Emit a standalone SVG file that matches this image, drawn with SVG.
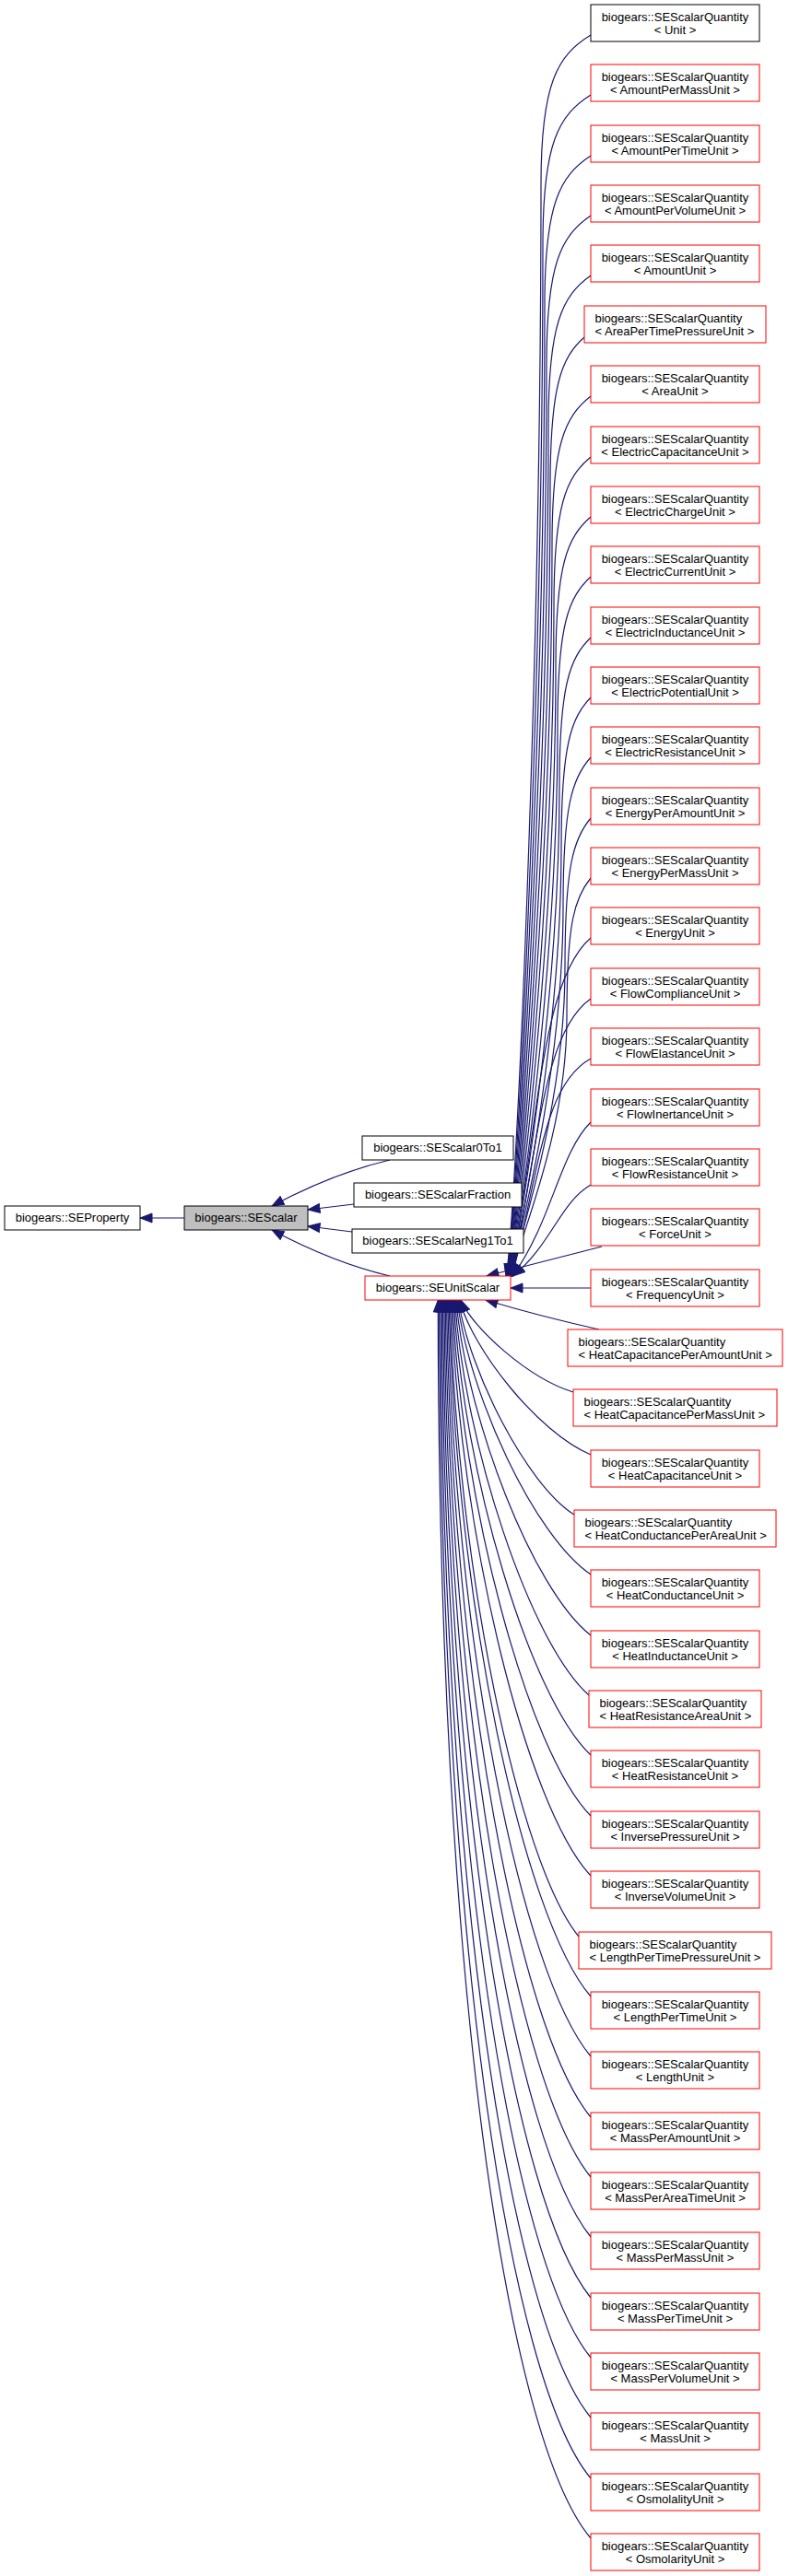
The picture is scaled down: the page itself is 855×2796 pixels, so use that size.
<svg xmlns="http://www.w3.org/2000/svg" width="855" height="2796" viewBox="0 0 855 2796">
<style>
rect{fill:#fff;stroke:#000;stroke-width:1}
.r rect{stroke:#f00}
.g rect{fill:#bfbfbf}
text{font-family:"Liberation Sans",Arial,sans-serif;font-size:13px;fill:#000}
.c{text-anchor:middle}
.e path{fill:none;stroke:#191970;stroke-width:1.2;marker-start:url(#a)}
</style>
<defs>
<marker id="a" markerUnits="userSpaceOnUse" markerWidth="16" markerHeight="12" refX="13.5" refY="6" orient="auto-start-reverse"><path d="M13.5,6 L0.5,1 L0.5,11 Z" fill="#191970" stroke="#191970" stroke-width="1"/></marker>
</defs>
<rect x="0" y="0" width="855" height="2796" style="fill:#fff;stroke:none"/>
<g class="e" id="edges">
<path d="M152,1322 L200,1322"/>
<path d="M295,1309 C340,1285 385,1268 423,1259"/>
<path d="M334,1313 L384,1307"/>
<path d="M334,1331 L382,1337"/>
<path d="M295,1335 C340,1359 385,1376 423,1385"/>
<path d="M549,1385 C559,1340 587,733 587,200 C587,90 605,60 641,38"/>
<path d="M549.4,1385 C559.4,1340 589,769 589,265 C589,155 606.2,125 641,103"/>
<path d="M549.8,1385 C559.8,1340 591,805 591,331 C591,221 607.5,191 641,169"/>
<path d="M550.2,1385 C560.2,1340 593,841 593,396 C593,286 608.8,256 641,234"/>
<path d="M550.6,1385 C560.6,1340 595,877 595,461 C595,351 610.2,321 641,299"/>
<path d="M551,1385 C561,1340 597,914 597,528 C597,418 609.2,388 634,366"/>
<path d="M551.4,1385 C561.4,1340 599,949 599,592 C599,482 612.9,452 641,430"/>
<path d="M551.8,1385 C561.8,1340 601,985 601,658 C601,548 614.2,518 641,496"/>
<path d="M552.2,1385 C562.2,1340 603,1021 603,723 C603,613 615.5,583 641,561"/>
<path d="M552.6,1385 C562.6,1340 605,1057 605,788 C605,678 616.9,648 641,626"/>
<path d="M553,1385 C563,1340 607,1093 607,854 C607,744 618.2,714 641,692"/>
<path d="M553.4,1385 C563.4,1340 609,1129 609,919 C609,809 619.6,779 641,757"/>
<path d="M553.8,1385 C563.8,1340 611,1164 611,984 C611,874 620.9,844 641,822"/>
<path d="M554.2,1385 C564.2,1340 613,1201 613,1050 C613,940 622.2,910 641,888"/>
<path d="M554.6,1385 C564.6,1340 615,1230 615,1104 C615,1001 623.6,974 641,953"/>
<path d="M555,1385 C585.1,1201.5 589.4,1062 641,1018"/>
<path d="M555.4,1385 C585.4,1234.5 589.6,1120.1 641,1084"/>
<path d="M555.8,1385 C585.6,1267 589.9,1177.3 641,1149"/>
<path d="M556.2,1385 C598.6,1326.6 607.1,1251.4 641,1218"/>
<path d="M556.6,1385 C598.8,1350.4 607.2,1305.8 641,1286"/>
<path d="M528,1385 L653,1353"/>
<path d="M554,1398 L641,1398"/>
<path d="M527,1411 C570,1424 610,1434 650,1443"/>
<path d="M500,1411 C512.2,1441 573.2,1496 622,1511"/>
<path d="M498.7,1411 C512.2,1463.6 583,1554.4 641,1579"/>
<path d="M497.4,1411 C508.6,1487 570.8,1610.8 623,1644"/>
<path d="M496.1,1411 C508.3,1512.2 579.6,1667.6 641,1709"/>
<path d="M494.8,1411 C506.3,1539.3 577.9,1725.8 641,1775"/>
<path d="M493.5,1411 C504.2,1567.9 575.1,1783.5 639,1840"/>
<path d="M492.2,1411 C502.4,1598.2 574.4,1841.8 641,1905"/>
<path d="M490.9,1411 C500.4,1630.6 572.7,1901.4 641,1971"/>
<path d="M489.6,1411 C498.4,1664.3 570.9,1960.7 641,2036"/>
<path d="M488.3,1411 C495.6,1700.1 562.2,2021.3 628,2102"/>
<path d="M487,1411 C494.3,1737.3 567.2,2081.4 641,2167"/>
<path d="M485.7,1411 C492.2,1776.1 565.4,2142.1 641,2232"/>
<path d="M484.4,1411 C490.2,1817.2 563.5,2204.2 641,2298"/>
<path d="M483.1,1411 C488.1,1859.5 561.6,2265.8 641,2363"/>
<path d="M481.8,1411 C486,1903.4 559.7,2327.9 641,2428"/>
<path d="M480.5,1411 C483.9,1949.7 557.8,2391.4 641,2494"/>
<path d="M479.2,1411 C481.8,1997 555.8,2454.4 641,2559"/>
<path d="M477.9,1411 C479.6,2046.2 553.9,2518 641,2624"/>
<path d="M476.6,1411 C477.5,2097.6 551.9,2582.9 641,2690"/>
<path d="M475.3,1411 C475.3,2150.2 549.9,2647.5 641,2755"/>
</g>
<g id="SEProperty"><rect x="5" y="1309" width="147" height="26"/><text class="c" x="78.5" y="1326">biogears::SEProperty</text></g>
<g id="SEScalar" class="g"><rect x="200" y="1309" width="134" height="26"/><text class="c" x="267" y="1326">biogears::SEScalar</text></g>
<g id="SEScalar0To1"><rect x="393" y="1233" width="164" height="26"/><text class="c" x="475" y="1250">biogears::SEScalar0To1</text></g>
<g id="SEScalarFraction"><rect x="384" y="1284" width="182" height="26"/><text class="c" x="475" y="1301">biogears::SEScalarFraction</text></g>
<g id="SEScalarNeg1To1"><rect x="382" y="1334" width="186" height="26"/><text class="c" x="475" y="1351">biogears::SEScalarNeg1To1</text></g>
<g id="SEUnitScalar" class="r"><rect x="396" y="1385" width="158" height="26"/><text class="c" x="475" y="1402">biogears::SEUnitScalar</text></g>
<g id="q0"><rect x="641" y="5" width="183" height="40"/><text class="c" x="732.5" y="22.5">biogears::SEScalarQuantity</text><text class="c" x="732.5" y="37">&lt; Unit &gt;</text></g>
<g id="q1" class="r"><rect x="641" y="70" width="183" height="40"/><text class="c" x="732.5" y="87.5">biogears::SEScalarQuantity</text><text class="c" x="732.5" y="102">&lt; AmountPerMassUnit &gt;</text></g>
<g id="q2" class="r"><rect x="641" y="136" width="183" height="40"/><text class="c" x="732.5" y="153.5">biogears::SEScalarQuantity</text><text class="c" x="732.5" y="168">&lt; AmountPerTimeUnit &gt;</text></g>
<g id="q3" class="r"><rect x="641" y="201" width="183" height="40"/><text class="c" x="732.5" y="218.5">biogears::SEScalarQuantity</text><text class="c" x="732.5" y="233">&lt; AmountPerVolumeUnit &gt;</text></g>
<g id="q4" class="r"><rect x="641" y="266" width="183" height="40"/><text class="c" x="732.5" y="283.5">biogears::SEScalarQuantity</text><text class="c" x="732.5" y="298">&lt; AmountUnit &gt;</text></g>
<g id="q5" class="r"><rect x="634" y="332" width="197" height="40"/><text x="645.5" y="349.5">biogears::SEScalarQuantity</text><text x="645.5" y="364">&lt; AreaPerTimePressureUnit &gt;</text></g>
<g id="q6" class="r"><rect x="641" y="397" width="183" height="40"/><text class="c" x="732.5" y="414.5">biogears::SEScalarQuantity</text><text class="c" x="732.5" y="429">&lt; AreaUnit &gt;</text></g>
<g id="q7" class="r"><rect x="641" y="463" width="183" height="40"/><text class="c" x="732.5" y="480.5">biogears::SEScalarQuantity</text><text class="c" x="732.5" y="495">&lt; ElectricCapacitanceUnit &gt;</text></g>
<g id="q8" class="r"><rect x="641" y="528" width="183" height="40"/><text class="c" x="732.5" y="545.5">biogears::SEScalarQuantity</text><text class="c" x="732.5" y="560">&lt; ElectricChargeUnit &gt;</text></g>
<g id="q9" class="r"><rect x="641" y="593" width="183" height="40"/><text class="c" x="732.5" y="610.5">biogears::SEScalarQuantity</text><text class="c" x="732.5" y="625">&lt; ElectricCurrentUnit &gt;</text></g>
<g id="q10" class="r"><rect x="641" y="659" width="183" height="40"/><text class="c" x="732.5" y="676.5">biogears::SEScalarQuantity</text><text class="c" x="732.5" y="691">&lt; ElectricInductanceUnit &gt;</text></g>
<g id="q11" class="r"><rect x="641" y="724" width="183" height="40"/><text class="c" x="732.5" y="741.5">biogears::SEScalarQuantity</text><text class="c" x="732.5" y="756">&lt; ElectricPotentialUnit &gt;</text></g>
<g id="q12" class="r"><rect x="641" y="789" width="183" height="40"/><text class="c" x="732.5" y="806.5">biogears::SEScalarQuantity</text><text class="c" x="732.5" y="821">&lt; ElectricResistanceUnit &gt;</text></g>
<g id="q13" class="r"><rect x="641" y="855" width="183" height="40"/><text class="c" x="732.5" y="872.5">biogears::SEScalarQuantity</text><text class="c" x="732.5" y="887">&lt; EnergyPerAmountUnit &gt;</text></g>
<g id="q14" class="r"><rect x="641" y="920" width="183" height="40"/><text class="c" x="732.5" y="937.5">biogears::SEScalarQuantity</text><text class="c" x="732.5" y="952">&lt; EnergyPerMassUnit &gt;</text></g>
<g id="q15" class="r"><rect x="641" y="985" width="183" height="40"/><text class="c" x="732.5" y="1002.5">biogears::SEScalarQuantity</text><text class="c" x="732.5" y="1017">&lt; EnergyUnit &gt;</text></g>
<g id="q16" class="r"><rect x="641" y="1051" width="183" height="40"/><text class="c" x="732.5" y="1068.5">biogears::SEScalarQuantity</text><text class="c" x="732.5" y="1083">&lt; FlowComplianceUnit &gt;</text></g>
<g id="q17" class="r"><rect x="641" y="1116" width="183" height="40"/><text class="c" x="732.5" y="1133.5">biogears::SEScalarQuantity</text><text class="c" x="732.5" y="1148">&lt; FlowElastanceUnit &gt;</text></g>
<g id="q18" class="r"><rect x="641" y="1182" width="183" height="40"/><text class="c" x="732.5" y="1199.5">biogears::SEScalarQuantity</text><text class="c" x="732.5" y="1214">&lt; FlowInertanceUnit &gt;</text></g>
<g id="q19" class="r"><rect x="641" y="1247" width="183" height="40"/><text class="c" x="732.5" y="1264.5">biogears::SEScalarQuantity</text><text class="c" x="732.5" y="1279">&lt; FlowResistanceUnit &gt;</text></g>
<g id="q20" class="r"><rect x="641" y="1312" width="183" height="40"/><text class="c" x="732.5" y="1329.5">biogears::SEScalarQuantity</text><text class="c" x="732.5" y="1344">&lt; ForceUnit &gt;</text></g>
<g id="q21" class="r"><rect x="641" y="1378" width="183" height="40"/><text class="c" x="732.5" y="1395.5">biogears::SEScalarQuantity</text><text class="c" x="732.5" y="1410">&lt; FrequencyUnit &gt;</text></g>
<g id="q22" class="r"><rect x="616" y="1443" width="233" height="40"/><text x="627.5" y="1460.5">biogears::SEScalarQuantity</text><text x="627.5" y="1475">&lt; HeatCapacitancePerAmountUnit &gt;</text></g>
<g id="q23" class="r"><rect x="622" y="1508" width="221" height="40"/><text x="633.5" y="1525.5">biogears::SEScalarQuantity</text><text x="633.5" y="1540">&lt; HeatCapacitancePerMassUnit &gt;</text></g>
<g id="q24" class="r"><rect x="641" y="1574" width="183" height="40"/><text class="c" x="732.5" y="1591.5">biogears::SEScalarQuantity</text><text class="c" x="732.5" y="1606">&lt; HeatCapacitanceUnit &gt;</text></g>
<g id="q25" class="r"><rect x="623" y="1639" width="219" height="40"/><text x="634.5" y="1656.5">biogears::SEScalarQuantity</text><text x="634.5" y="1671">&lt; HeatConductancePerAreaUnit &gt;</text></g>
<g id="q26" class="r"><rect x="641" y="1704" width="183" height="40"/><text class="c" x="732.5" y="1721.5">biogears::SEScalarQuantity</text><text class="c" x="732.5" y="1736">&lt; HeatConductanceUnit &gt;</text></g>
<g id="q27" class="r"><rect x="641" y="1770" width="183" height="40"/><text class="c" x="732.5" y="1787.5">biogears::SEScalarQuantity</text><text class="c" x="732.5" y="1802">&lt; HeatInductanceUnit &gt;</text></g>
<g id="q28" class="r"><rect x="639" y="1835" width="187" height="40"/><text x="650.5" y="1852.5">biogears::SEScalarQuantity</text><text x="650.5" y="1867">&lt; HeatResistanceAreaUnit &gt;</text></g>
<g id="q29" class="r"><rect x="641" y="1900" width="183" height="40"/><text class="c" x="732.5" y="1917.5">biogears::SEScalarQuantity</text><text class="c" x="732.5" y="1932">&lt; HeatResistanceUnit &gt;</text></g>
<g id="q30" class="r"><rect x="641" y="1966" width="183" height="40"/><text class="c" x="732.5" y="1983.5">biogears::SEScalarQuantity</text><text class="c" x="732.5" y="1998">&lt; InversePressureUnit &gt;</text></g>
<g id="q31" class="r"><rect x="641" y="2031" width="183" height="40"/><text class="c" x="732.5" y="2048.5">biogears::SEScalarQuantity</text><text class="c" x="732.5" y="2063">&lt; InverseVolumeUnit &gt;</text></g>
<g id="q32" class="r"><rect x="628" y="2097" width="209" height="40"/><text x="639.5" y="2114.5">biogears::SEScalarQuantity</text><text x="639.5" y="2129">&lt; LengthPerTimePressureUnit &gt;</text></g>
<g id="q33" class="r"><rect x="641" y="2162" width="183" height="40"/><text class="c" x="732.5" y="2179.5">biogears::SEScalarQuantity</text><text class="c" x="732.5" y="2194">&lt; LengthPerTimeUnit &gt;</text></g>
<g id="q34" class="r"><rect x="641" y="2227" width="183" height="40"/><text class="c" x="732.5" y="2244.5">biogears::SEScalarQuantity</text><text class="c" x="732.5" y="2259">&lt; LengthUnit &gt;</text></g>
<g id="q35" class="r"><rect x="641" y="2293" width="183" height="40"/><text class="c" x="732.5" y="2310.5">biogears::SEScalarQuantity</text><text class="c" x="732.5" y="2325">&lt; MassPerAmountUnit &gt;</text></g>
<g id="q36" class="r"><rect x="641" y="2358" width="183" height="40"/><text class="c" x="732.5" y="2375.5">biogears::SEScalarQuantity</text><text class="c" x="732.5" y="2390">&lt; MassPerAreaTimeUnit &gt;</text></g>
<g id="q37" class="r"><rect x="641" y="2423" width="183" height="40"/><text class="c" x="732.5" y="2440.5">biogears::SEScalarQuantity</text><text class="c" x="732.5" y="2455">&lt; MassPerMassUnit &gt;</text></g>
<g id="q38" class="r"><rect x="641" y="2489" width="183" height="40"/><text class="c" x="732.5" y="2506.5">biogears::SEScalarQuantity</text><text class="c" x="732.5" y="2521">&lt; MassPerTimeUnit &gt;</text></g>
<g id="q39" class="r"><rect x="641" y="2554" width="183" height="40"/><text class="c" x="732.5" y="2571.5">biogears::SEScalarQuantity</text><text class="c" x="732.5" y="2586">&lt; MassPerVolumeUnit &gt;</text></g>
<g id="q40" class="r"><rect x="641" y="2619" width="183" height="40"/><text class="c" x="732.5" y="2636.5">biogears::SEScalarQuantity</text><text class="c" x="732.5" y="2651">&lt; MassUnit &gt;</text></g>
<g id="q41" class="r"><rect x="641" y="2685" width="183" height="40"/><text class="c" x="732.5" y="2702.5">biogears::SEScalarQuantity</text><text class="c" x="732.5" y="2717">&lt; OsmolalityUnit &gt;</text></g>
<g id="q42" class="r"><rect x="641" y="2750" width="183" height="40"/><text class="c" x="732.5" y="2767.5">biogears::SEScalarQuantity</text><text class="c" x="732.5" y="2782">&lt; OsmolarityUnit &gt;</text></g>
</svg>
